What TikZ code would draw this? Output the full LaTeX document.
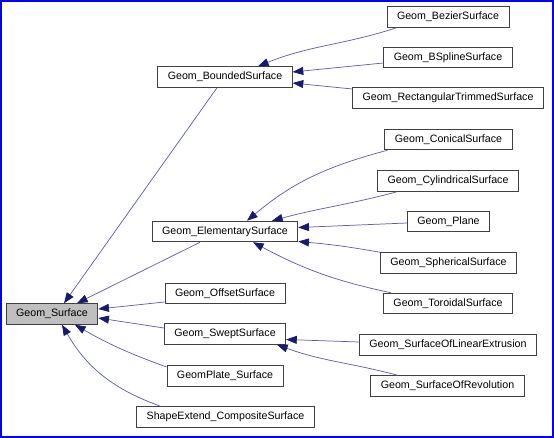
\documentclass[tikz,border=0pt]{standalone}
\usepackage{fontspec}
\setmainfont{Liberation Sans}
\usetikzlibrary{arrows.meta,positioning}
\definecolor{edgeblue}{RGB}{95,95,175}
\definecolor{tipblue}{RGB}{25,25,112}
\definecolor{basegray}{RGB}{191,191,191}
\definecolor{frameblue}{RGB}{0,0,255}

\begin{document}
\begin{tikzpicture}
          [ x=0.75pt, y=0.75pt,
            element/.style={
              rectangle,
              draw=black!75,
              line width=0.6pt,
              font=\fontsize{8}{9.6}\selectfont,
              inner xsep=7.5pt,
              inner ysep=0pt,
              minimum height=15.5pt},
            base/.style={
              element,
              fill=basegray},
            line/.style={
              draw=edgeblue,
              line width=0.55pt,
              -{Triangle[length=8pt,width=6pt,color=tipblue]}},
          ]

          \useasboundingbox (0,0) rectangle (554,-438);
          \draw[frameblue, line width=1.5pt] (1,-1) rectangle (553,-437);

          \node (surf) [base] at (52,-314) {Geom\_Surface};

          \node (bounded) [element] at (225,-77) {Geom\_BoundedSurface};
          \node (elem) [element] at (225,-231.5) {Geom\_ElementarySurface};
          \node (offset) [element] at (225,-293.5) {Geom\_OffsetSurface};
          \node (swept) [element] at (225,-334) {Geom\_SweptSurface};
          \node (plate) [element] at (225,-376) {GeomPlate\_Surface};
          \node (shapeext) [element] at (225.5,-417) {ShapeExtend\_CompositeSurface};

          \node (bezier) [element] at (448,-17) {Geom\_BezierSurface};
          \node (bspline) [element] at (448,-57.5) {Geom\_BSplineSurface};
          \node (recttrim) [element] at (448,-98) {Geom\_RectangularTrimmedSurface};
          \node (conical) [element] at (448.5,-139.5) {Geom\_ConicalSurface};
          \node (cylindrical) [element] at (448,-181) {Geom\_CylindricalSurface};
          \node (plane) [element] at (448.5,-221.5) {Geom\_Plane};
          \node (spherical) [element] at (448.5,-263) {Geom\_SphericalSurface};
          \node (toroidal) [element] at (448,-303.5) {Geom\_ToroidalSurface};
          \node (linext) [element] at (448,-345) {Geom\_SurfaceOfLinearExtrusion};
          \node (revol) [element] at (447.5,-386) {Geom\_SurfaceOfRevolution};

          \draw[line] ([shift={(10,0)}]bezier.south west) to[out=198,in=22] ([shift={(33,0)}]bounded.north);
          \draw[line] ([shift={(0,-5.5)}]bspline.west) -- ([shift={(0,5)}]bounded.east);
          \draw[line] ([shift={(0,9)}]recttrim.west) -- ([shift={(0,-6)}]bounded.east);

          \draw[line] ([shift={(3,0)}]conical.south west) to[out=195,in=40] ([shift={(22,0)}]elem.north);
          \draw[line] ([shift={(20,0)}]cylindrical.south west) to[out=195,in=15] ([shift={(47,0)}]elem.north);
          \draw[line] ([shift={(0,-1.5)}]plane.west) -- ([shift={(0,4)}]elem.east);
          \draw[line] (spherical.north west) to[out=170,in=-5] ([shift={(0,-10)}]elem.east);
          \draw[line] ([shift={(8,0)}]toroidal.north west) to[out=168,in=-28] ([shift={(28,0)}]elem.south);

          \draw[line] ([shift={(0,3)}]linext.west) -- ([shift={(0,-5.5)}]swept.east);
          \draw[line] ([shift={(-50,0)}]revol.north) to[out=165,in=-20] ([shift={(52,0)}]swept.south);

          \draw[line] ([shift={(-8,0)}]bounded.south) -- ([shift={(12,0)}]surf.north);
          \draw[line] ([shift={(-25,0)}]elem.south) -- ([shift={(25,0)}]surf.north);
          \draw[line] ([shift={(0,-8.5)}]offset.west) -- ([shift={(0,5)}]surf.east);
          \draw[line] ([shift={(0,6)}]swept.west) -- ([shift={(0,-4)}]surf.east);
          \draw[line] ([shift={(0,9)}]plate.west) to[out=160,in=-30] ([shift={(23,0)}]surf.south);
          \draw[line] ([shift={(-65,0)}]shapeext.north) to[out=160,in=-60] ([shift={(10,0)}]surf.south);

        \end{tikzpicture}
\end{document}
